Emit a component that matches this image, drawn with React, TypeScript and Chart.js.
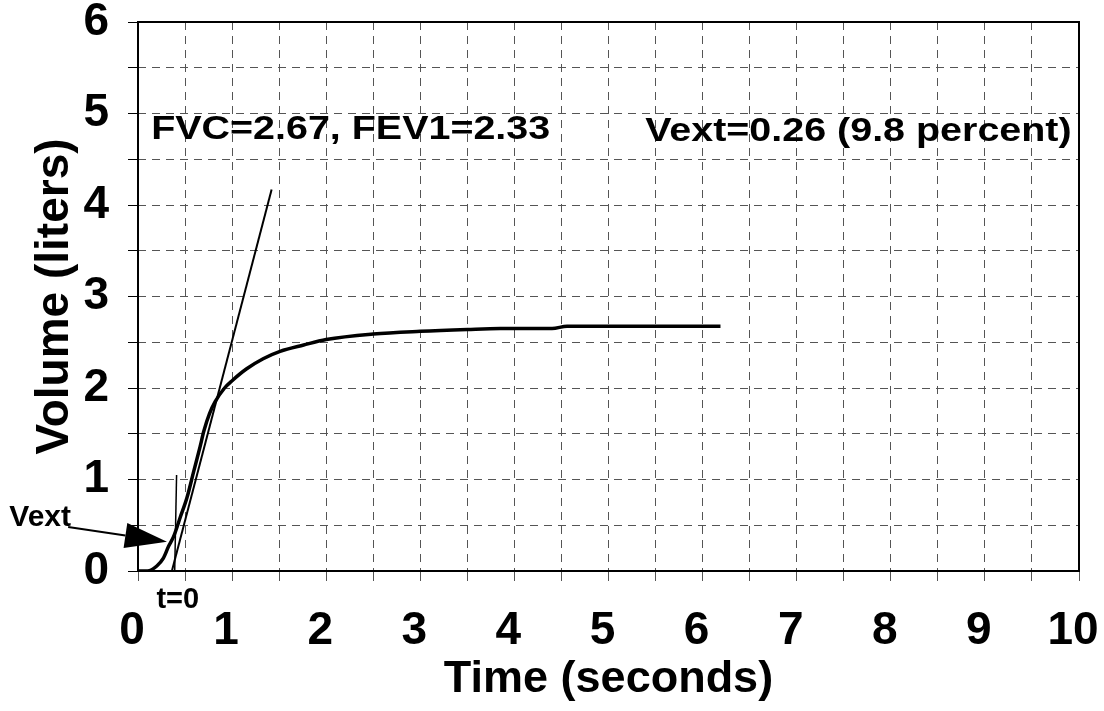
import React, { useEffect, useRef } from 'react';
import { Chart, registerables } from 'chart.js';

Chart.register(...registerables);

// ---- data ----
const timeS = [0, 0.1, 0.2, 0.27, 0.325, 0.378, 0.45, 0.52, 0.59, 0.66, 0.70, 0.76, 0.82, 0.92, 1.0, 1.155, 1.33, 1.51, 1.76, 2.0, 2.5, 3.0, 3.5, 3.85, 4.4, 4.56, 5.0, 5.5, 6.19];
const volumeL = [0, 0, 0.055, 0.14, 0.27, 0.375, 0.59, 0.8, 1.08, 1.36, 1.53, 1.72, 1.85, 2.0, 2.08, 2.21, 2.32, 2.4, 2.47, 2.53, 2.59, 2.62, 2.64, 2.65, 2.65, 2.675, 2.675, 2.675, 2.675];

const tangentT = [0.36, 1.42];
const tangentV = [0, 4.17];

const startLineT = [0.39, 0.41];
const startLineV = [0, 1.05];

const xTickLabels = ['0', '1', '2', '3', '4', '5', '6', '7', '8', '9', '10'];
const yTickLabels = ['0', '1', '2', '3', '4', '5', '6'];

const xTitle = 'Time (seconds)';
const yTitle = 'Volume (liters)';

// annotation texts: [text, t, v, fontSize, xStretch, align]
const noteTexts: [string, number, number, number, number, CanvasTextAlign][] = [
  ['FVC=2.67, FEV1=2.33', 0.14, 4.82, 34, 1.16, 'left'],
  ['Vext=0.26 (9.8 percent)', 5.39, 4.8, 34, 1.16, 'left'],
  ['Vext', -1.368, 0.58, 30, 1.0, 'left'],
  ['t=0', 0.423, -0.322, 29, 1.0, 'center'],
];
// arrow from tail to tip (data units)
const arrowTail = [-0.742, 0.481];
const arrowTip = [0.308, 0.32];

const FONT = '"Liberation Sans", Arial, Helvetica, sans-serif';

const zip = (a: number[], b: number[]) => a.map((x, i) => ({ x, y: b[i] }));

const boxPlugin = {
  id: 'boxPlugin',
  beforeDatasetsDraw(chart: any) {
    const { ctx, chartArea: ca } = chart;
    ctx.save();
    ctx.strokeStyle = '#000';
    ctx.lineWidth = 2;
    ctx.setLineDash([]);
    ctx.strokeRect(ca.left, ca.top, ca.right - ca.left, ca.bottom - ca.top);
    ctx.restore();
  },
  afterDatasetsDraw(chart: any) {
    const { ctx } = chart;
    const xs = chart.scales.x;
    const ys = chart.scales.y;
    ctx.save();
    ctx.fillStyle = '#000';
    ctx.textBaseline = 'middle';
    for (const [txt, t, v, size, sx, align] of noteTexts) {
      ctx.save();
      ctx.font = `bold ${size}px ${FONT}`;
      ctx.textAlign = align;
      ctx.translate(xs.getPixelForValue(t), ys.getPixelForValue(v));
      ctx.scale(sx, 1);
      ctx.fillText(txt, 0, 0);
      ctx.restore();
    }
    // arrow
    const x0 = xs.getPixelForValue(arrowTail[0]);
    const y0 = ys.getPixelForValue(arrowTail[1]);
    const x1 = xs.getPixelForValue(arrowTip[0]);
    const y1 = ys.getPixelForValue(arrowTip[1]);
    const ang = Math.atan2(y1 - y0, x1 - x0);
    const headLen = 42;
    const headHalf = 12.6;
    const bx = x1 - headLen * Math.cos(ang);
    const by = y1 - headLen * Math.sin(ang);
    ctx.strokeStyle = '#000';
    ctx.lineWidth = 2;
    ctx.beginPath();
    ctx.moveTo(x0, y0);
    ctx.lineTo(bx, by);
    ctx.stroke();
    ctx.beginPath();
    ctx.moveTo(x1, y1);
    ctx.lineTo(bx + headHalf * Math.sin(ang), by - headHalf * Math.cos(ang));
    ctx.lineTo(bx - headHalf * Math.sin(ang), by + headHalf * Math.cos(ang));
    ctx.closePath();
    ctx.fill();
    ctx.restore();
  },
};

export default function App() {
  const ref = useRef<HTMLCanvasElement>(null);
  useEffect(() => {
    const gridColor = '#555555';
    const chart = new Chart(ref.current as HTMLCanvasElement, {
      type: 'line',
      data: {
        datasets: [
          {
            data: zip(timeS, volumeL),
            borderColor: '#000',
            borderWidth: 3.5,
            pointRadius: 0,
            cubicInterpolationMode: 'monotone',
            fill: false,
          },
          {
            data: zip(tangentT, tangentV),
            borderColor: '#000',
            borderWidth: 2,
            pointRadius: 0,
            fill: false,
          },
          {
            data: zip(startLineT, startLineV),
            borderColor: '#000',
            borderWidth: 1.5,
            pointRadius: 0,
            fill: false,
          },
        ],
      },
      options: {
        responsive: false,
        animation: false,
        devicePixelRatio: 1,
        layout: { padding: { top: 22, right: 25, left: 0, bottom: 0 } },
        plugins: { legend: { display: false }, tooltip: { enabled: false } },
        scales: {
          x: {
            type: 'linear',
            min: 0,
            max: 10,
            ticks: {
              stepSize: 0.5,
              autoSkip: false,
              maxRotation: 0,
              padding: 23,
              labelOffset: -6,
              color: '#000',
              font: { size: 46, weight: 'bold', family: FONT },
              callback: (v: any) => (Number.isInteger(v) ? xTickLabels[v] ?? '' : ''),
            },
            grid: {
              color: gridColor,
              lineWidth: 1,
              borderDash: [8, 6],
              tickLength: 10,
              tickColor: gridColor,
              tickBorderDash: [],
            } as any,
            border: { display: false, dash: [8, 6] },
            title: {
              display: true,
              text: xTitle,
              color: '#000',
              font: { size: 45, weight: 'bold', family: FONT },
              padding: { top: 0, bottom: 4 },
            },
            afterFit: (s: any) => {
              s.height = 140;
              s.paddingLeft = 0;
              s.paddingRight = 0;
            },
          },
          y: {
            type: 'linear',
            min: 0,
            max: 6,
            ticks: {
              stepSize: 0.5,
              autoSkip: false,
              padding: 19,
              color: '#000',
              font: { size: 46, weight: 'bold', family: FONT },
              callback: (v: any) => (Number.isInteger(v) ? yTickLabels[v] ?? '' : ''),
            },
            grid: {
              color: gridColor,
              lineWidth: 1,
              borderDash: [8, 6],
              tickLength: 10,
              tickColor: '#000',
              tickBorderDash: [],
            } as any,
            border: { display: false, dash: [8, 6] },
            title: {
              display: true,
              text: yTitle,
              color: '#000',
              font: { size: 46, weight: 'bold', family: FONT },
              padding: { top: 28, bottom: 0 },
            },
            afterFit: (s: any) => {
              s.width = 138;
              s.paddingTop = 0;
              s.paddingBottom = 0;
            },
          },
        },
      },
      plugins: [boxPlugin],
    } as any);
    return () => chart.destroy();
  }, []);
  return (
    <div style={{ position: 'absolute', left: 0, top: 0, width: 1104, height: 711, background: '#fff' }}>
      <canvas ref={ref} width={1104} height={711} style={{ display: 'block' }} />
    </div>
  );
}
